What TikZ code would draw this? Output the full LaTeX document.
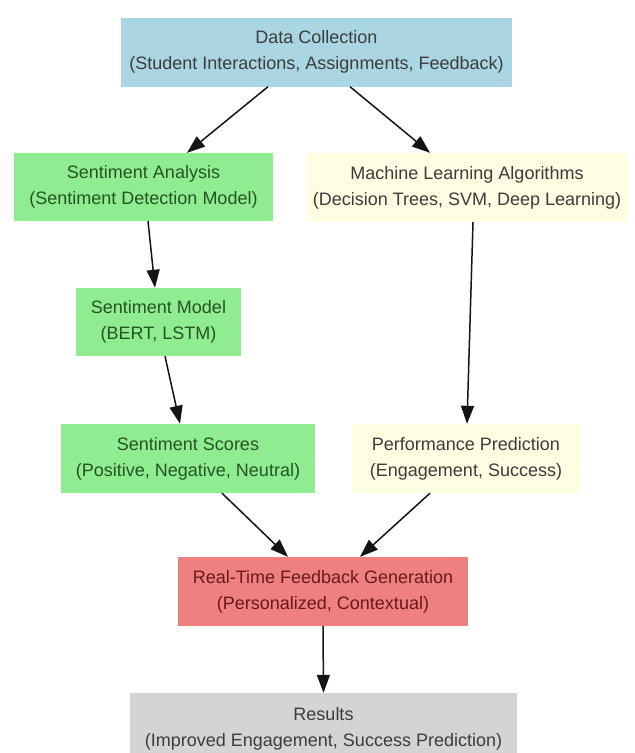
\documentclass[tikz,border=0pt]{standalone}
\usepackage{fontspec}
\setmainfont{Liberation Sans}
\usetikzlibrary{arrows.meta}
\definecolor{cblue}{RGB}{170,214,228}
\definecolor{cgreen}{RGB}{144,236,144}
\definecolor{cyellow}{RGB}{255,253,226}
\definecolor{cred}{RGB}{238,128,128}
\definecolor{cgray}{RGB}{212,212,212}
\definecolor{tgreen}{RGB}{35,85,35}
\definecolor{tred}{RGB}{105,25,25}
\definecolor{tdark}{RGB}{60,60,60}
\definecolor{arr}{RGB}{20,20,20}
\tikzset{
  box/.style={rectangle, inner sep=0pt, align=center, font=\fontsize{18}{26}\selectfont},
  bluebox/.style={box, fill=cblue, text=tdark},
  greenbox/.style={box, fill=cgreen, text=tgreen},
  yellowbox/.style={box, fill=cyellow, text=tdark},
  redbox/.style={box, fill=cred, text=tred},
  graybox/.style={box, fill=cgray, text=tdark},
  link/.style={draw=arr, line width=1.5pt, -{Triangle[length=18pt,width=13pt]}}
}
\begin{document}
\begin{tikzpicture}[x=1pt,y=-1pt]
\useasboundingbox (0,0) rectangle (635,753);
\clip (0,0) rectangle (635,753);
\node[bluebox, minimum width=391pt, minimum height=69pt] (dc) at (316.5,52)
  {Data Collection\\(Student Interactions, Assignments, Feedback)};
\node[greenbox, minimum width=259pt, minimum height=68pt] (sa) at (143.5,187)
  {Sentiment Analysis\\(Sentiment Detection Model)};
\node[yellowbox, minimum width=321pt, minimum height=69pt] (ml) at (467,187.5)
  {Machine Learning Algorithms\\(Decision Trees, SVM, Deep Learning)};
\node[greenbox, minimum width=165pt, minimum height=68pt] (sm) at (158.5,322)
  {Sentiment Model\\(BERT, LSTM)};
\node[greenbox, minimum width=254pt, minimum height=69pt] (ss) at (188,458.5)
  {Sentiment Scores\\(Positive, Negative, Neutral)};
\node[yellowbox, minimum width=228pt, minimum height=69pt] (pp) at (466,458.5)
  {Performance Prediction\\(Engagement, Success)};
\node[redbox, minimum width=290pt, minimum height=69pt] (rt) at (323,591.5)
  {Real-Time Feedback Generation\\(Personalized, Contextual)};
\node[graybox, minimum width=387pt, minimum height=72pt] (rs) at (323.5,729)
  {Results\\(Improved Engagement, Success Prediction)};
\draw[link] ([xshift=-48.5pt]dc.south) -- ([xshift=43.5pt]sa.north);
\draw[link] ([xshift=33.5pt]dc.south) -- ([xshift=-37pt]ml.north);
\draw[link] ([xshift=4.5pt]sa.south) -- ([xshift=-3.5pt]sm.north);
\draw[link] ([xshift=6.5pt]sm.south) -- ([xshift=-8pt]ss.north);
\draw[link] ([xshift=6pt]ml.south) -- ([xshift=1pt]pp.north);
\draw[link] ([xshift=34pt]ss.south) -- ([xshift=-35pt]rt.north);
\draw[link] ([xshift=-36pt]pp.south) -- ([xshift=37pt]rt.north);
\draw[link] (rt.south) -- (rs.north);
\end{tikzpicture}
\end{document}
